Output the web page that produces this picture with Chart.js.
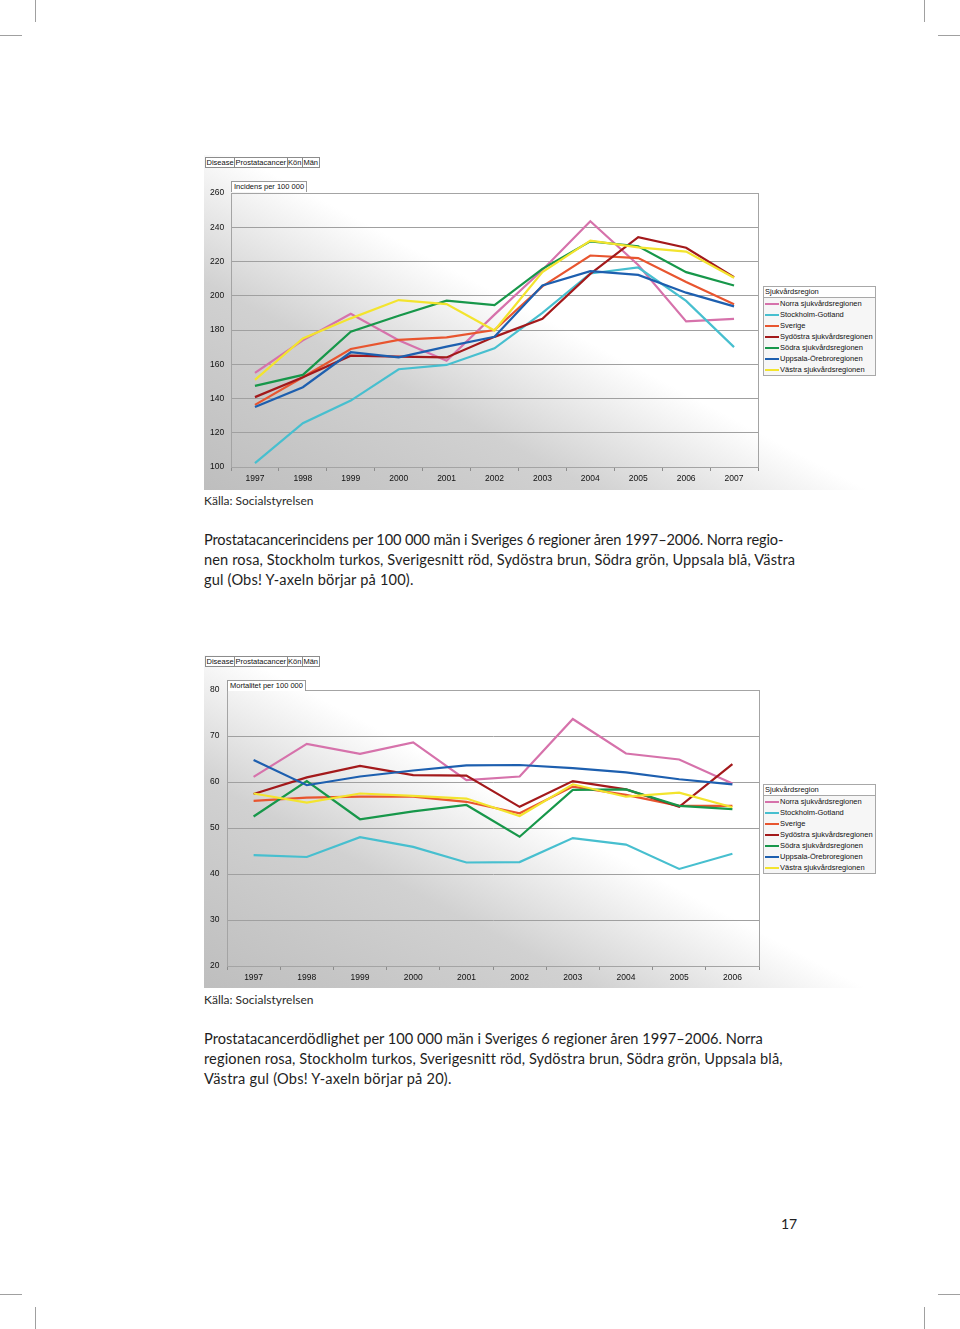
<!DOCTYPE html>
<html>
<head>
<meta charset="utf-8">
<script src="https://cdn.jsdelivr.net/npm/chart.js@4/dist/chart.umd.min.js"></script>
<style>
body { margin: 0; background: #fff; }
#page { position: relative; width: 960px; height: 1329px; overflow: hidden; background: #fff; }
.mark { position: absolute; background: #a0a0a0; }
.frame { position: absolute; left: 204px; width: 672px; background: linear-gradient(28deg, #bebebe 0%, #d1d1d1 30%, #ffffff 51%, #ffffff 100%); }
.frame canvas { position: absolute; left: 0; top: 0; }
.hdr { position: absolute; display: flex; font: 7.5px "Liberation Sans", Arial, sans-serif; color: #111; }
.hdr span { border: 1px solid #8c8c8c; margin-right: -1px; padding: 0 0.5px; line-height: 9px; background: #fff; }
.axtitle { position: absolute; font: 7.5px "Liberation Sans", Arial, sans-serif; color: #111; border: 1px solid #9a9a9a; border-bottom: none; background: #fff; padding: 0 2px; line-height: 10px; }
.legend { position: absolute; width: 111px; border: 1px solid #a8a8a8; background: #f6f6f6; font: 7.5px "Liberation Sans", Arial, sans-serif; color: #111; }
.legend .title { background: #fff; border-bottom: 1px solid #a8a8a8; padding: 0 1px; line-height: 10px; }
.legend .item { display: flex; align-items: center; height: 11px; }
.legend .sw { width: 14px; height: 2px; margin: 0 1px 0 1px; }
.src { position: absolute; left: 204px; font: 12px Lato, "Open Sans", sans-serif; color: #2a2a2a; }
.cap { position: absolute; left: 204px; font: 14.6px Lato, "Open Sans", sans-serif; color: #1e1e1e; line-height: 20px; white-space: nowrap; }
.cap span { display: block; }
.pnum { position: absolute; left: 781px; top: 1215px; font: 14px Lato, sans-serif; color: #222; }
</style>
</head>
<body>
<div id="page">
  <div class="mark" style="left:35px;top:0;width:1px;height:22px"></div>
  <div class="mark" style="left:0;top:35px;width:22px;height:1px"></div>
  <div class="mark" style="left:924px;top:0;width:1px;height:22px"></div>
  <div class="mark" style="left:938px;top:35px;width:22px;height:1px"></div>
  <div class="mark" style="left:35px;top:1307px;width:1px;height:22px"></div>
  <div class="mark" style="left:0;top:1294px;width:22px;height:1px"></div>
  <div class="mark" style="left:924px;top:1307px;width:1px;height:22px"></div>
  <div class="mark" style="left:938px;top:1294px;width:22px;height:1px"></div>

  <div class="frame" style="top:155px;height:335px">
    <canvas id="incChart" width="672" height="335"></canvas>
    <div class="hdr" style="left:1px;top:2px"><span>Disease</span><span>Prostatacancer</span><span>Kön</span><span>Män</span></div>
    <div class="axtitle" style="left:27px;top:26px">Incidens per 100 000</div>
    <div class="legend" id="legInc" style="left:559px;top:131px"></div>
  </div>
  <div class="src" style="top:493px">Källa: Socialstyrelsen</div>
  <div class="cap" style="top:530px"><span style="letter-spacing:-0.14px">Prostatacancerincidens per 100 000 män i Sveriges 6 regioner åren 1997–2006. Norra regio-</span><span style="letter-spacing:0.12px">nen rosa, Stockholm turkos, Sverigesnitt röd, Sydöstra brun, Södra grön, Uppsala blå, Västra</span><span style="letter-spacing:0.18px">gul (Obs! Y-axeln börjar på 100).</span></div>

  <div class="frame" style="top:655px;height:333px">
    <canvas id="mortChart" width="672" height="333"></canvas>
    <div class="hdr" style="left:1px;top:1px"><span>Disease</span><span>Prostatacancer</span><span>Kön</span><span>Män</span></div>
    <div class="axtitle" style="left:23px;top:25px">Mortalitet per 100 000</div>
    <div class="legend" id="legMort" style="left:559px;top:129px"></div>
  </div>
  <div class="src" style="top:992px">Källa: Socialstyrelsen</div>
  <div class="cap" style="top:1029px"><span style="letter-spacing:0.01px">Prostatacancerdödlighet per 100 000 män i Sveriges 6 regioner åren 1997–2006. Norra</span><span style="letter-spacing:0.11px">regionen rosa, Stockholm turkos, Sverigesnitt röd, Sydöstra brun, Södra grön, Uppsala blå,</span><span style="letter-spacing:0.22px">Västra gul (Obs! Y-axeln börjar på 20).</span></div>

  <div class="pnum">17</div>
</div>

<script>
const regions = ['Norra sjukvårdsregionen', 'Stockholm-Gotland', 'Sverige', 'Sydöstra sjukvårdsregionen', 'Södra sjukvårdsregionen', 'Uppsala-Örebroregionen', 'Västra sjukvårdsregionen'];
const colors = ['#d672ab', '#47bfcf', '#e8552f', '#a3191b', '#17974a', '#1d5faf', '#f3e42e'];

const yearsInc = ['1997', '1998', '1999', '2000', '2001', '2002', '2003', '2004', '2005', '2006', '2007'];
const norraInc = [155, 174, 189.5, 174, 162, 189, 215, 243.5, 218, 185, 186.5];
const stockholmInc = [102.3, 125.6, 138.8, 157.1, 159.6, 169.3, 190, 213, 216.5, 197, 170];
const sverigeInc = [136.3, 152.4, 168.9, 174.2, 175.7, 180, 205.5, 223.5, 222, 208, 195];
const sydostraInc = [140.8, 152.4, 165, 164.5, 164, 176, 186.6, 212.8, 234.2, 228, 210.8];
const sodraInc = [147.4, 153.8, 179, 188.3, 197.1, 194.5, 215.7, 231.8, 228.9, 213.8, 206];
const uppsalaInc = [135, 146.6, 167, 164, 170.3, 176, 206, 214.4, 212.2, 201.8, 193.8];
const vastraInc = [150.9, 175.1, 186.8, 197.5, 195.1, 179.7, 213.8, 232.2, 228.3, 225.8, 210.5];

const yearsMort = ['1997', '1998', '1999', '2000', '2001', '2002', '2003', '2004', '2005', '2006'];
const norraMort = [61.1, 68.3, 66.1, 68.6, 60.4, 61.2, 73.7, 66.2, 64.9, 59.7];
const stockholmMort = [44.1, 43.7, 48, 45.9, 42.5, 42.6, 47.8, 46.4, 41.1, 44.4];
const sverigeMort = [55.9, 56.6, 56.8, 56.8, 55.7, 53.2, 59, 57.2, 54.8, 54.8];
const sydostraMort = [57.4, 61, 63.5, 61.5, 61.4, 54.6, 60.2, 58.4, 54.6, 63.9];
const sodraMort = [52.5, 60.2, 51.9, 53.6, 55, 48.1, 58.3, 58.4, 54.8, 54.1];
const uppsalaMort = [64.8, 59.3, 61.2, 62.5, 63.6, 63.7, 63, 62.1, 60.6, 59.5];
const vastraMort = [57.5, 55.5, 57.5, 57, 56.4, 52.6, 59.5, 56.8, 57.7, 54.5];

const tickFont = { family: '"Liberation Sans", Arial, sans-serif', size: 8.5 };

// grey box round the plot area (top and right edges)
const plotBox = {
    id: 'plotBox',
    beforeDatasetsDraw(chart) {
        const a = chart.chartArea;
        const ctx = chart.ctx;
        ctx.save();
        ctx.strokeStyle = '#a4a4a4';
        ctx.lineWidth = 1;
        ctx.strokeRect(Math.round(a.left) + 0.5, Math.round(a.top) + 0.5, Math.round(a.right - a.left), Math.round(a.bottom - a.top));
        ctx.restore();
    }
};

function makeDatasets(series) {
    return series.map((data, i) => ({
        label: regions[i],
        data: data,
        borderColor: colors[i],
        backgroundColor: colors[i],
        borderWidth: 2.2,
        pointRadius: 0,
        fill: false,
        tension: 0,
        order: series.length - i
    }));
}

function makeChart(id, labels, series, yMin, yMax, step, pad, yWidth, xHeight) {
    return new Chart(document.getElementById(id), {
        type: 'line',
        data: { labels: labels, datasets: makeDatasets(series) },
        plugins: [plotBox],
        options: {
            responsive: false,
            animation: false,
            layout: { padding: pad },
            plugins: { legend: { display: false }, tooltip: { enabled: false } },
            scales: {
                x: {
                    offset: true,
                    grid: { offset: true, drawOnChartArea: false, drawTicks: true, tickLength: 4, color: '#8c8c8c' },
                    border: { display: true, color: '#8c8c8c' },
                    ticks: { font: tickFont, color: '#111', padding: 3, maxRotation: 0 },
                    afterFit(scale) { scale.height = xHeight; }
                },
                y: {
                    min: yMin,
                    max: yMax,
                    grid: { color: '#a0a0a0', drawTicks: false },
                    border: { display: true, color: '#8c8c8c' },
                    ticks: { stepSize: step, font: tickFont, color: '#111', crossAlign: 'far', padding: 0 },
                    afterFit(scale) { scale.width = yWidth; }
                }
            }
        }
    });
}

function buildLegend(id) {
    const box = document.getElementById(id);
    let html = '<div class="title">Sjukvårdsregion</div>';
    regions.forEach((name, i) => {
        html += '<div class="item"><div class="sw" style="background:' + colors[i] + '"></div>' + name + '</div>';
    });
    box.innerHTML = html;
}

makeChart('incChart', yearsInc, [norraInc, stockholmInc, sverigeInc, sydostraInc, sodraInc, uppsalaInc, vastraInc],
    100, 260, 20, { left: 6, top: 38, right: 118, bottom: 0 }, 21, 23);
makeChart('mortChart', yearsMort, [norraMort, stockholmMort, sverigeMort, sydostraMort, sodraMort, uppsalaMort, vastraMort],
    20, 80, 10, { left: 6, top: 35, right: 117, bottom: 0 }, 17, 22);

buildLegend('legInc');
buildLegend('legMort');
</script>
</body>
</html>
